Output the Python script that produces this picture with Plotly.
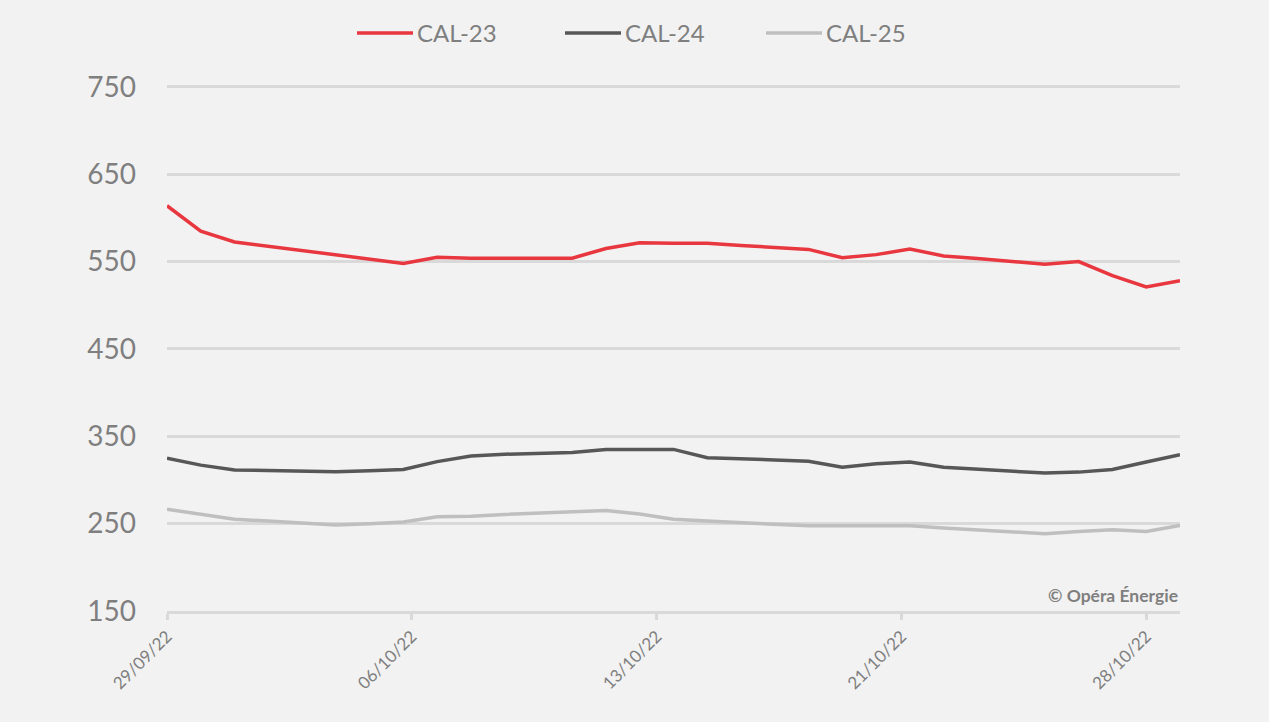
import pandas as pd
import plotly.graph_objects as go

# Data
dates = pd.date_range("2022-09-29", "2022-10-29", freq="D")
cal23 = [614, 585, 572.5, 567.5, 562, 557, 552, 548, 555, 554, 554, 554, 554, 565, 571.5,
         571, 571, 568.5, 566, 564, 554.5, 558, 564.5, 556.5, 553.5, 550, 547, 550, 534, 521, 528]
cal24 = [325, 317, 311.5, 310.5, 310, 309.5, 310.5, 312, 321, 327.5, 329.5, 330.5, 331.5, 335, 335,
         335, 325.5, 324.5, 323, 321.5, 314.5, 318.5, 320.5, 314.5, 312, 310, 308, 309, 312, 320.5, 329]
cal25 = [266.5, 260.5, 255, 253, 250.5, 248.5, 250, 252, 258, 258.5, 260.5, 262, 263.5, 265, 261,
         255, 253, 251, 249.5, 247.5, 247.5, 247.5, 247.5, 245, 243, 241, 238.5, 241, 243, 241, 248]
series_names = ["CAL-23", "CAL-24", "CAL-25"]
tick_labels = ["29/09/22", "06/10/22", "13/10/22", "21/10/22", "28/10/22"]
y_ticks = [150, 250, 350, 450, 550, 650, 750]

colors = ["#E8373F", "#575757", "#BFBFBF"]
grey = "#7F7F7F"
grid = "#D9D9D9"
font_family = "Lato, 'Open Sans', sans-serif"

W, H = 1269, 722
L, R, T, B = 167, 89, 83, 111
plot_w = W - L - R
y_range = [150, 754.5]

fig = go.Figure()
for name, vals, col in zip(series_names, [cal23, cal24, cal25], colors):
    fig.add_trace(go.Scatter(x=dates, y=vals, name=name, mode="lines",
                             line=dict(color=col, width=3.5), showlegend=False))

# evenly spaced tick positions across the first 29 days
span = dates[-2] - dates[0]
tick_pos = [dates[0] + span * k / (len(tick_labels) - 1) for k in range(len(tick_labels))]

# custom legend (long line samples like the original)
legend_px = [357, 565, 766]   # left edge of each sample, in pixels
sample_len = 56
legend_y = (H - B - 33) / (H - T - B)
shapes, annotations = [], []
for name, col, px in zip(series_names, colors, legend_px):
    x0 = (px - L) / plot_w
    x1 = (px + sample_len - L) / plot_w
    shapes.append(dict(type="line", xref="paper", yref="paper", x0=x0, x1=x1,
                       y0=legend_y, y1=legend_y, line=dict(color=col, width=3.5)))
    annotations.append(dict(text=name, xref="paper", yref="paper",
                            x=(px + sample_len + 2 - L) / plot_w, y=legend_y,
                            xanchor="left", yanchor="middle", showarrow=False,
                            font=dict(size=24, color=grey, family=font_family)))

annotations.append(dict(text="<b>© Opéra Énergie</b>", xref="paper", yref="paper",
                        x=1, y=(168 - y_range[0]) / (y_range[1] - y_range[0]),
                        xanchor="right", yanchor="middle", showarrow=False,
                        font=dict(size=17.5, color=grey, family=font_family)))

fig.update_layout(
    width=W, height=H,
    paper_bgcolor="#F2F2F2", plot_bgcolor="#F2F2F2",
    margin=dict(l=L, r=R, t=T, b=B),
    font=dict(family=font_family, color=grey),
    showlegend=False,
    xaxis=dict(type="date", range=[dates[0], dates[-1]], showgrid=False,
               showline=True, linecolor=grid, linewidth=2.5,
               ticks="outside", ticklen=6, tickwidth=2.5, tickcolor=grid,
               tickvals=tick_pos, ticktext=tick_labels, tickangle=-45,
               tickfont=dict(size=17, color=grey, family=font_family)),
    yaxis=dict(range=y_range, tickvals=y_ticks, showgrid=True, gridcolor=grid,
               gridwidth=2.5, zeroline=False, showline=False,
               ticklabelstandoff=30,
               tickfont=dict(size=28, color=grey, family=font_family)),
    shapes=shapes,
    annotations=annotations,
)

fig.write_html("out.html", config={"displayModeBar": False},
               post_script="document.body.style.margin='0';")
